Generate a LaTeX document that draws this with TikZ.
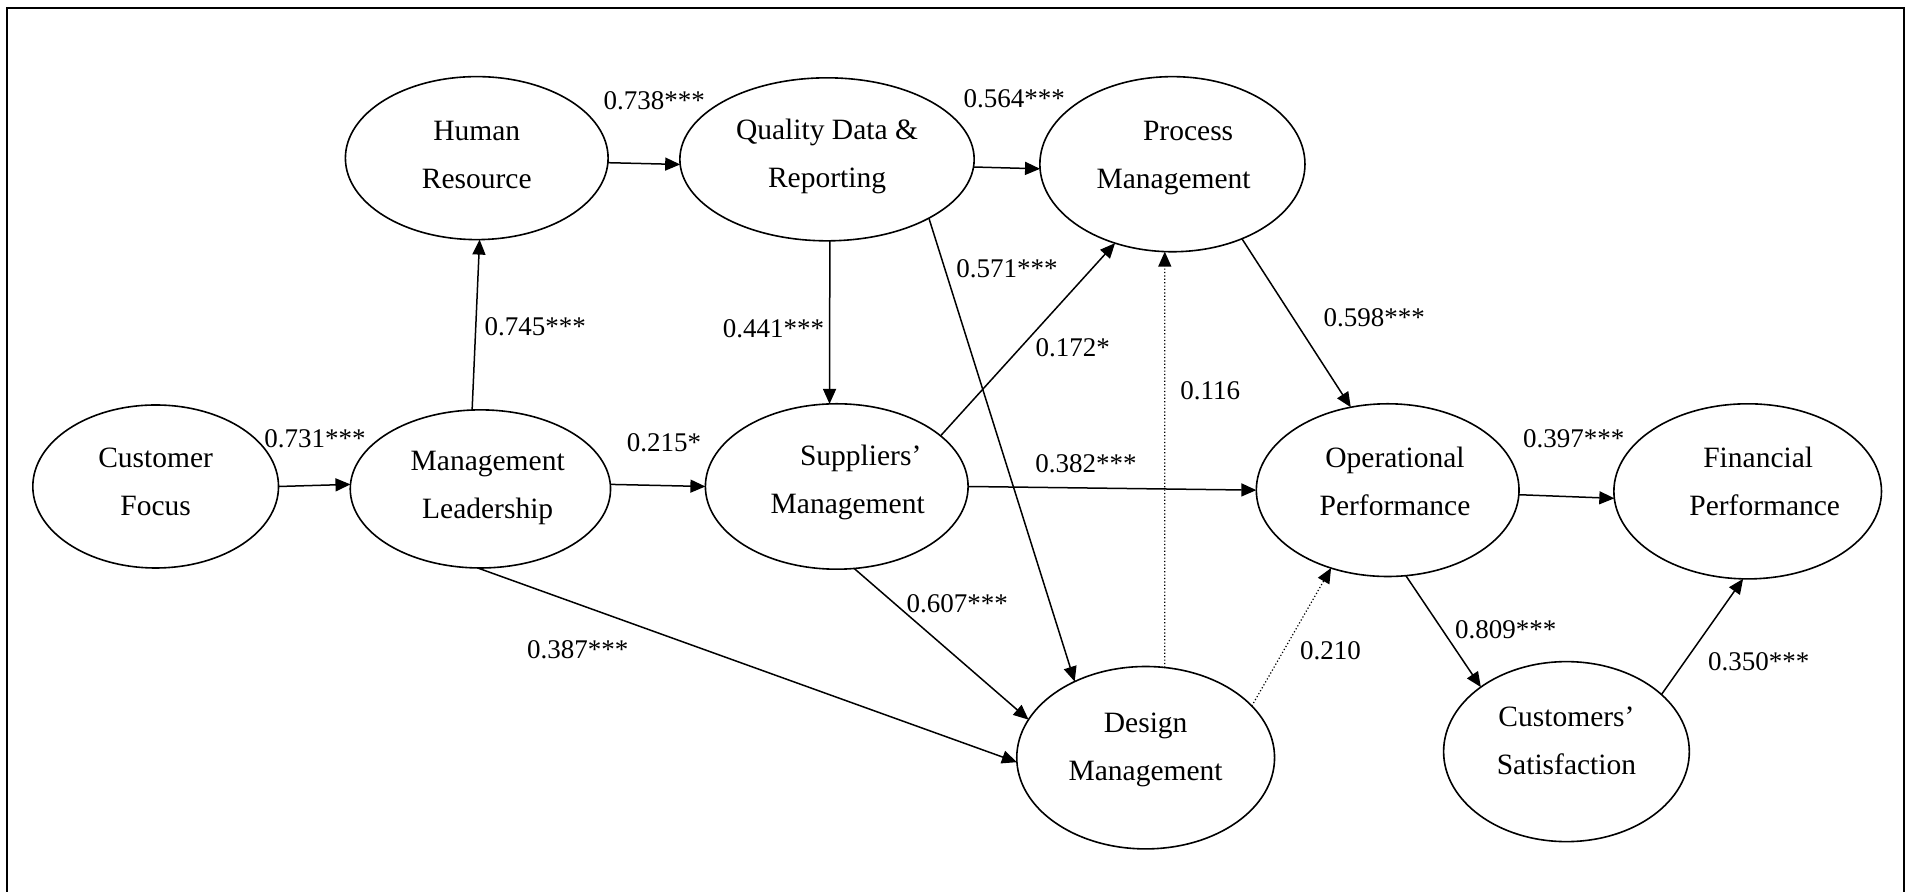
\documentclass[tikz,border=0pt]{standalone}
\usepackage{fontspec}
\setmainfont{Liberation Serif}
\usetikzlibrary{arrows.meta,shapes.geometric}
\begin{document}
\begin{tikzpicture}[x=1.2162pt,y=-1.2162pt,
  ell/.style={draw, ellipse, line width=1.6pt, inner sep=0pt, outer sep=0pt},
  txt/.style={align=center, inner sep=0pt, font=\fontsize{29.5}{48}\selectfont},
  lab/.style={inner sep=0pt, font=\fontsize{27}{32}\selectfont},
  arr/.style={line width=1.5pt, -{Triangle[length=15pt,width=13pt]}},
  dotarr/.style={line width=1.2pt, dash pattern=on 1.2pt off 2.2pt, -{Triangle[length=15pt,width=13pt]}}
]
\useasboundingbox (0,0) rectangle (1568,733);
\draw[line width=2pt] (5.8,745) -- (5.8,6.2) -- (1565.5,6.2) -- (1565.5,745);

% ellipses
\node[ell, minimum width=245.7pt, minimum height=163pt] (cf) at (128,400) {};
\node[ell, minimum width=260.3pt, minimum height=158.1pt] (ml) at (395,402) {};
\node[ell, minimum width=262.7pt, minimum height=163pt] (hr) at (392,130) {};
\node[ell, minimum width=294.3pt, minimum height=163pt] (qd) at (680,131) {};
\node[ell, minimum width=265.1pt, minimum height=175.1pt] (pm) at (964,135) {};
\node[ell, minimum width=262.7pt, minimum height=165.4pt] (sm) at (688,400) {};
\node[ell, minimum width=262.7pt, minimum height=172.7pt] (op) at (1141,403) {};
\node[ell, minimum width=267.6pt, minimum height=175.1pt] (fp) at (1437,404) {};
\node[ell, minimum width=257.8pt, minimum height=182.4pt] (dm) at (942,623) {};
\node[ell, minimum width=245.7pt, minimum height=180pt] (cs) at (1288,618) {};

% texts
\node[txt] (cf-t) at (128,396) {Customer\\Focus};
\node[txt] (ml-t) at (401,401.5) {Management\\Leadership};
\node[txt] (hr-t) at (392,127.5) {Human\\Resource};
\node[txt] (qd-t) at (680,129) {Quality Data \&\\Reporting};
\node[txt] (pm-t) at (965,130) {\hspace*{29pt}Process\\Management};
\node[txt] (sm-t) at (697,396.5) {\hspace*{26pt}Suppliers’\\Management};
\node[txt] (op-t) at (1147,395.5) {Operational\\Performance};
\node[txt] (fp-t) at (1451,395.6) {Financial\hspace*{13pt}\\Performance};
\node[txt] (dm-t) at (942,616.5) {Design\\Management};
\node[txt] (cs-t) at (1288,609) {Customers’\\Satisfaction};

% connectors
\draw[arr] (cf.0) -- (ml.178);
\draw[arr] (ml.96) -- (hr.-88);
\draw[arr] (hr.-2) -- (qd.182);
\draw[arr] (qd.-3) -- (pm.182);
\draw[arr] (qd.-88) -- (sm.95);
\draw[arr] (qd.-30) -- (dm.133);
\draw[arr] (sm.26) -- (pm.234);
\draw[dotarr] (dm.78) -- (pm.265);
\draw[arr] (pm.-47) -- (op.114);
\draw[arr] (ml.2) -- (sm.180);
\draw[arr] (sm.0) -- (op.180);
\draw[arr] (ml.-92) -- (dm.182);
\draw[arr] (sm.-78) -- (dm.162);
\draw[dotarr] (dm.26) -- (op.234);
\draw[arr] (op.-2) -- (fp.183);
\draw[arr] (op.-78) -- (cs.143);
\draw[arr] (cs.31) -- (fp.267);

% labels
\node[lab] (l1) at (259,361) {0.731***};
\node[lab] (l2) at (440,269) {0.745***};
\node[lab] (l3) at (538,83) {0.738***};
\node[lab] (l4) at (834,81) {0.564***};
\node[lab] (l5) at (636,270) {0.441***};
\node[lab] (l6) at (828,221) {0.571***};
\node[lab] (l7) at (882,286) {0.172*};
\node[lab] (l8) at (995,321) {0.116};
\node[lab] (l9) at (1130,261) {0.598***};
\node[lab] (l10) at (546,364) {0.215*};
\node[lab] (l11) at (893,381) {0.382***};
\node[lab] (l12) at (475,534) {0.387***};
\node[lab] (l13) at (787,496) {0.607***};
\node[lab] (l14) at (1094,535) {0.210};
\node[lab] (l15) at (1294,361) {0.397***};
\node[lab] (l16) at (1238,518) {0.809***};
\node[lab] (l17) at (1446,544) {0.350***};
\end{tikzpicture}
\end{document}
